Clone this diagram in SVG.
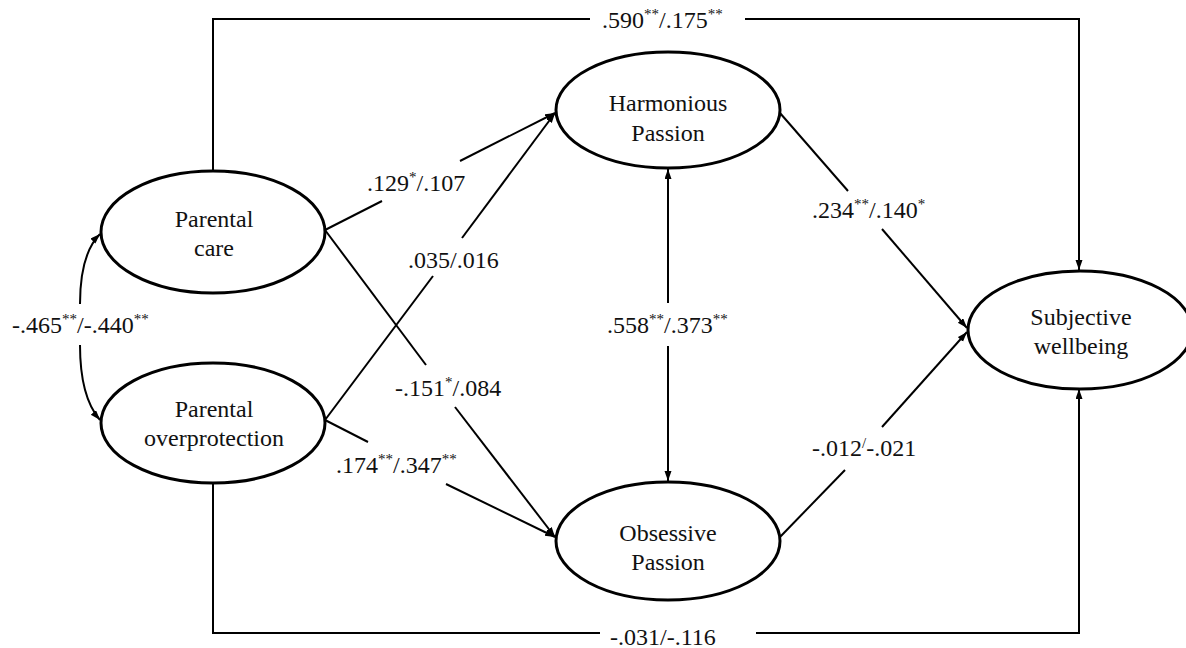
<svg xmlns="http://www.w3.org/2000/svg" width="1186" height="648" viewBox="0 0 1186 648">
<style>
.node ellipse{fill:#fff;stroke:#000;stroke-width:3}
text{font-family:"Liberation Serif","Times New Roman",serif;font-size:24px;fill:#111}
.nt{text-anchor:middle}
.sup{font-size:15px}
#connectors path{fill:none;stroke:#000;stroke-width:2}
</style>
<defs>
<marker id="ah" markerUnits="userSpaceOnUse" markerWidth="11" markerHeight="8" refX="10" refY="3.5" orient="auto-start-reverse">
<path d="M0,0 L10,3.5 L0,7 z" fill="#000"/>
</marker>
</defs>
<g id="connectors">
<path d="M213,171 V19 H590"/>
<path d="M745,19 H1079 V270" marker-end="url(#ah)"/>
<path d="M213,483 V633 H600"/>
<path d="M756,633 H1079 V389" marker-end="url(#ah)"/>
<path d="M668,303 V169" marker-end="url(#ah)"/>
<path d="M668,346 V481" marker-end="url(#ah)"/>
<path d="M325,230 L382,201"/>
<path d="M460,161 L555,113" marker-end="url(#ah)"/>
<path d="M325,420 L433,276"/>
<path d="M462,238 L555,113" marker-end="url(#ah)"/>
<path d="M325,230 L426,365"/>
<path d="M455,407 L555,537" marker-end="url(#ah)"/>
<path d="M325,420 L368,442"/>
<path d="M446,484 L555,537" marker-end="url(#ah)"/>
<path d="M780,113 L848,191"/>
<path d="M882,229 L967,328" marker-end="url(#ah)"/>
<path d="M780,537 L845,470"/>
<path d="M882,427 L967,332" marker-end="url(#ah)"/>
<path d="M80,304 C80,272 86,248 100,234" marker-end="url(#ah)"/>
<path d="M80,345 C80,378 86,404 100,420" marker-end="url(#ah)"/>
</g>
<g id="labels">
<text x="602" y="28">.590<tspan class="sup" dy="-9">**</tspan><tspan dy="9">/.175</tspan><tspan class="sup" dy="-9">**</tspan></text>
<text x="367" y="191">.129<tspan class="sup" dy="-9">*</tspan><tspan dy="9">/.107</tspan></text>
<text x="408" y="268">.035/.016</text>
<text x="395" y="396">-.151<tspan class="sup" dy="-9">*</tspan><tspan dy="9">/.084</tspan></text>
<text x="336" y="473">.174<tspan class="sup" dy="-9">**</tspan><tspan dy="9">/.347</tspan><tspan class="sup" dy="-9">**</tspan></text>
<text x="607" y="333">.558<tspan class="sup" dy="-9">**</tspan><tspan dy="9">/.373</tspan><tspan class="sup" dy="-9">**</tspan></text>
<text x="812" y="218">.234<tspan class="sup" dy="-9">**</tspan><tspan dy="9">/.140</tspan><tspan class="sup" dy="-9">*</tspan></text>
<text x="812" y="456">-.012<tspan class="sup" dy="-8">/</tspan><tspan dy="8">-.021</tspan></text>
<text x="610" y="645">-.031/-.116</text>
<text x="12" y="333">-.465<tspan class="sup" dy="-9">**</tspan><tspan dy="9">/-.440</tspan><tspan class="sup" dy="-9">**</tspan></text>
</g>
<g id="parental-care" class="node">
<ellipse cx="213" cy="232" rx="112" ry="61"/>
<text class="nt" x="214" y="227">Parental</text>
<text class="nt" x="214" y="256">care</text>
</g>
<g id="parental-overprotection" class="node">
<ellipse cx="213" cy="423" rx="112" ry="60"/>
<text class="nt" x="214" y="417">Parental</text>
<text class="nt" x="214" y="446">overprotection</text>
</g>
<g id="harmonious-passion" class="node">
<ellipse cx="668" cy="110" rx="112" ry="58"/>
<text class="nt" x="668" y="111">Harmonious</text>
<text class="nt" x="668" y="141">Passion</text>
</g>
<g id="obsessive-passion" class="node">
<ellipse cx="668" cy="541" rx="112" ry="59"/>
<text class="nt" x="668" y="541">Obsessive</text>
<text class="nt" x="668" y="570">Passion</text>
</g>
<g id="subjective-wellbeing" class="node">
<ellipse cx="1080" cy="330" rx="112" ry="59"/>
<text class="nt" x="1081" y="325">Subjective</text>
<text class="nt" x="1081" y="354">wellbeing</text>
</g>
</svg>
